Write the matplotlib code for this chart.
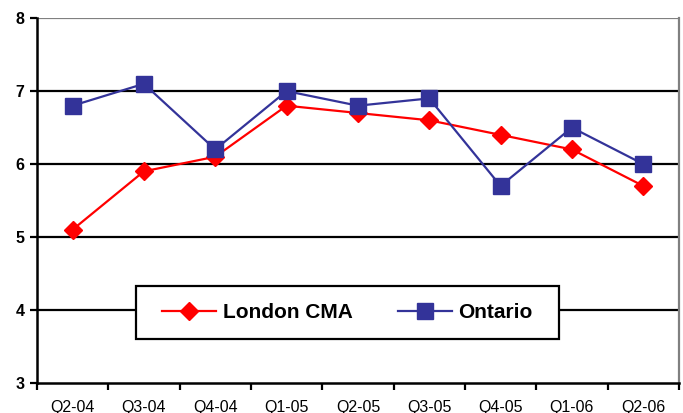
import numpy as np
import matplotlib
matplotlib.use('Agg')
import matplotlib.pyplot as plt
from matplotlib.ticker import FixedLocator
from matplotlib.patches import Rectangle

plt.rcParams['font.family'] = ['Liberation Sans', 'DejaVu Sans']

# --- gögn ---
quarters = ['Q2-04', 'Q3-04', 'Q4-04', 'Q1-05', 'Q2-05', 'Q3-05', 'Q4-05', 'Q1-06', 'Q2-06']
london = [5.1, 5.9, 6.1, 6.8, 6.7, 6.6, 6.4, 6.2, 5.7]
ontario = [6.8, 7.1, 6.2, 7.0, 6.8, 6.9, 5.7, 6.5, 6.0]

fig = plt.figure(figsize=(6.83, 4.13), dpi=100)
ax = fig.add_axes([0.054, 0.073, 0.940, 0.883])

x = np.arange(len(quarters))

# gridlines
for yv in [4, 5, 6, 7]:
    ax.axhline(yv, color='black', linewidth=1.6, zorder=1)
ax.axhline(8, color='#808080', linewidth=1.6, zorder=1)

ax.plot(x, london, color='#FF0000', linewidth=1.6, marker='D', markersize=9.5,
        markerfacecolor='#FF0000', markeredgecolor='#FF0000', label='London CMA', zorder=3)
ax.plot(x, ontario, color='#333399', linewidth=1.6, marker='s', markersize=12,
        markerfacecolor='#333399', markeredgecolor='#333399', label='Ontario', zorder=3)

ax.set_xlim(-0.5, len(quarters) - 0.5)
ax.set_ylim(3, 8)

# x ticks: marks between categories, labels at centres
ax.xaxis.set_major_locator(FixedLocator(np.arange(-0.5, len(quarters), 1.0)))
ax.xaxis.set_minor_locator(FixedLocator(x))
ax.set_xticklabels([])
ax.set_xticklabels(quarters, minor=True, fontsize=11.5)
ax.tick_params(axis='x', which='major', length=5, width=1.6, direction='out', color='black')
ax.tick_params(axis='x', which='minor', length=0, pad=12)

ax.set_yticks([3, 4, 5, 6, 7, 8])
ax.set_yticklabels(['3', '4', '5', '6', '7', '8'], fontsize=11.5, fontweight='bold')
ax.tick_params(axis='y', length=5, width=1.6, direction='out', pad=4)

ax.spines['left'].set_linewidth(1.8)
ax.spines['bottom'].set_linewidth(1.8)
ax.spines['top'].set_visible(False)
ax.spines['right'].set_color('#808080')
ax.spines['right'].set_linewidth(1.6)

# legend box drawn separately so the side padding can be wider than top/bottom
box = (0.154, 0.12, 0.659, 0.146)
ax.add_patch(Rectangle(box[:2], box[2], box[3], transform=ax.transAxes, facecolor='white',
                       edgecolor='black', linewidth=1.6, zorder=4))
inset = 0.017
leg = ax.legend(loc='center', bbox_to_anchor=(box[0] + inset, box[1], box[2] - 2 * inset, box[3]),
                mode='expand', borderaxespad=0, ncol=2, frameon=False, handlelength=2.6,
                handletextpad=0.3, borderpad=0.75, prop={'weight': 'bold', 'size': 15},
                columnspacing=2.3)
leg.set_zorder(5)

fig.savefig('out.png', dpi=100)
